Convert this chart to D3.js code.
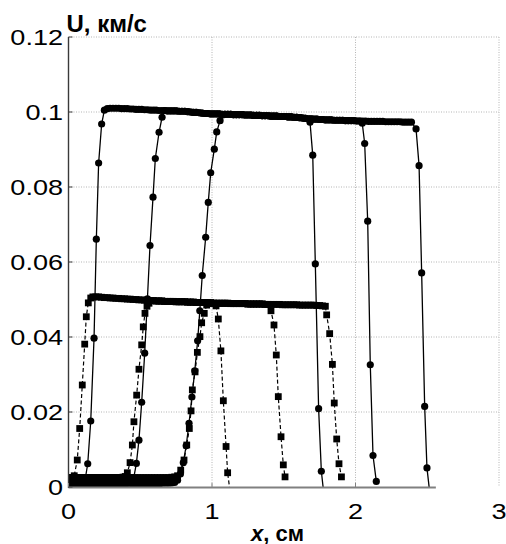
<!DOCTYPE html>
<html><head><meta charset="utf-8">
<script src="https://cdn.jsdelivr.net/npm/d3@7"></script>
<style>body{margin:0;background:#fff}svg{display:block}</style>
</head><body><svg id="c" width="506" height="544"></svg>
<script>
// ---- data ----
const xTicks = [0, 1, 2, 3];
const xTickLabels = ["0", "1", "2", "3"];
const yTicks = [0, 0.02, 0.04, 0.06, 0.08, 0.1, 0.12];
const yTickLabels = ["0", "0.02", "0.04", "0.06", "0.08", "0.1", "0.12"];
const xDomain = [0, 3];
const yDomain = [0, 0.12];
const xAxisEnd = 2.56;
const yTitle = "U, км/с";
const xTitleVar = "x";
const xTitleUnit = ", см";

// shared baseline samples (ahead of the pulses)
const baseSolid = [[0,0.0008],[0.02,0.0008],[0.04,0.0008],[0.06,0.0008],[0.08,0.0008],[0.1,0.0009],[0.12,0.0008],[0.14,0.0008],[0.16,0.0008],[0.18,0.0008],[0.2,0.0008],[0.22,0.0008],[0.24,0.0008],[0.26,0.0008],[0.28,0.0008],[0.3,0.0008],[0.32,0.0008],[0.34,0.0008],[0.36,0.0009],[0.38,0.0009],[0.4,0.0009],[0.42,0.0010],[0.44,0.0009],[0.46,0.0009],[0.48,0.0009],[0.5,0.0009],[0.52,0.0009],[0.54,0.0009],[0.56,0.0009],[0.58,0.0009],[0.6,0.0009],[0.62,0.0009],[0.64,0.0009],[0.66,0.0010],[0.68,0.0010],[0.7,0.0010],[0.72,0.0011]];
const baseDashed = [[0,0.0025],[0.02,0.0025],[0.04,0.0025],[0.06,0.0025],[0.08,0.0025],[0.1,0.0025],[0.12,0.0025],[0.14,0.0025],[0.16,0.0025],[0.18,0.0025],[0.2,0.0025],[0.22,0.0025],[0.24,0.0025],[0.26,0.0025],[0.28,0.0025],[0.3,0.0025],[0.32,0.0025],[0.34,0.0025],[0.36,0.0025],[0.38,0.0026],[0.4,0.0025],[0.42,0.0025],[0.44,0.0025],[0.46,0.0025],[0.48,0.0025],[0.5,0.0025],[0.52,0.0025],[0.54,0.0025],[0.56,0.0025],[0.58,0.0025],[0.6,0.0025],[0.62,0.0025],[0.64,0.0025],[0.66,0.0025],[0.68,0.0025],[0.7,0.0025],[0.72,0.0026],[0.74,0.0027]];

// shared plateau samples
const plateau100 = [[0.25,0.1005],[0.27,0.1009],[0.29,0.1010],[0.31,0.1010],[0.33,0.1010],[0.35,0.1010],[0.37,0.1009],[0.39,0.1009],[0.41,0.1009],[0.43,0.1008],[0.45,0.1008],[0.47,0.1007],[0.49,0.1007],[0.51,0.1007],[0.53,0.1006],[0.55,0.1006],[0.57,0.1005],[0.59,0.1005],[0.61,0.1005],[0.63,0.1004],[0.65,0.1004],[0.67,0.1004],[0.69,0.1003],[0.71,0.1003],[0.73,0.1003],[0.75,0.1003],[0.77,0.1002],[0.79,0.1002],[0.81,0.1002],[0.83,0.1001],[0.85,0.1000],[0.87,0.0999],[0.89,0.0999],[0.91,0.0998],[0.93,0.0997],[0.95,0.0996],[0.97,0.0996],[0.99,0.0995],[1.01,0.0995],[1.03,0.0995],[1.05,0.0995],[1.07,0.0994],[1.09,0.0994],[1.11,0.0994],[1.13,0.0994],[1.15,0.0993],[1.17,0.0993],[1.19,0.0993],[1.21,0.0993],[1.23,0.0992],[1.25,0.0992],[1.27,0.0992],[1.29,0.0991],[1.31,0.0991],[1.33,0.0991],[1.35,0.0990],[1.37,0.0990],[1.39,0.0990],[1.41,0.0989],[1.43,0.0989],[1.45,0.0989],[1.47,0.0988],[1.49,0.0988],[1.51,0.0988],[1.53,0.0987],[1.55,0.0987],[1.57,0.0986],[1.59,0.0986],[1.61,0.0985],[1.63,0.0984],[1.65,0.0983],[1.67,0.0982],[1.69,0.0982],[1.71,0.0981],[1.73,0.0981],[1.75,0.0980],[1.77,0.0980],[1.79,0.0979],[1.81,0.0979],[1.83,0.0979],[1.85,0.0978],[1.87,0.0978],[1.89,0.0978],[1.91,0.0978],[1.93,0.0977],[1.95,0.0977],[1.97,0.0977],[1.99,0.0977],[2.01,0.0976],[2.03,0.0976],[2.05,0.0976],[2.07,0.0976],[2.09,0.0975],[2.11,0.0975],[2.13,0.0975],[2.15,0.0975],[2.17,0.0975],[2.19,0.0975],[2.21,0.0974],[2.23,0.0974],[2.25,0.0974],[2.27,0.0974],[2.29,0.0974],[2.31,0.0974],[2.33,0.0973],[2.35,0.0973],[2.37,0.0973],[2.39,0.0973]];
const plateau50 = [[0.17,0.0507],[0.19,0.0507],[0.21,0.0507],[0.23,0.0506],[0.25,0.0505],[0.27,0.0505],[0.29,0.0504],[0.31,0.0504],[0.33,0.0503],[0.35,0.0503],[0.37,0.0502],[0.39,0.0502],[0.41,0.0501],[0.43,0.0501],[0.45,0.0500],[0.47,0.0500],[0.49,0.0499],[0.51,0.0499],[0.53,0.0498],[0.55,0.0498],[0.57,0.0497],[0.59,0.0497],[0.61,0.0496],[0.63,0.0496],[0.65,0.0496],[0.67,0.0495],[0.69,0.0495],[0.71,0.0495],[0.73,0.0495],[0.75,0.0494],[0.77,0.0494],[0.79,0.0494],[0.81,0.0494],[0.83,0.0493],[0.85,0.0493],[0.87,0.0493],[0.89,0.0492],[0.91,0.0492],[0.93,0.0492],[0.95,0.0492],[0.97,0.0491],[0.99,0.0491],[1.01,0.0490],[1.03,0.0490],[1.05,0.0490],[1.07,0.0490],[1.09,0.0490],[1.11,0.0490],[1.13,0.0489],[1.15,0.0489],[1.17,0.0489],[1.19,0.0489],[1.21,0.0489],[1.23,0.0489],[1.25,0.0488],[1.27,0.0488],[1.29,0.0488],[1.31,0.0488],[1.33,0.0488],[1.35,0.0488],[1.37,0.0487],[1.39,0.0487],[1.41,0.0487],[1.43,0.0487],[1.45,0.0487],[1.47,0.0487],[1.49,0.0486],[1.51,0.0486],[1.53,0.0486],[1.55,0.0486],[1.57,0.0486],[1.59,0.0486],[1.61,0.0485],[1.63,0.0485],[1.65,0.0485],[1.67,0.0485],[1.69,0.0485],[1.71,0.0485],[1.73,0.0484],[1.75,0.0484],[1.77,0.0483],[1.79,0.0482]];

// fronts (rear rise and leading fall) of each profile
const solidRise1 = [[0.115,0.0018],[0.134,0.0062],[0.155,0.0176],[0.178,0.0397],[0.194,0.0661],[0.21,0.0864],[0.231,0.0968]];
const solidFall1 = [[1.683,0.0973],[1.702,0.0885],[1.72,0.0595],[1.743,0.0209],[1.762,0.0042],[1.777,-0.001]];
const solidRise2 = [[0.435,0.0012],[0.455,0.0025],[0.473,0.0063],[0.491,0.0125],[0.51,0.0226],[0.531,0.0357],[0.55,0.0502],[0.568,0.0644],[0.589,0.0773],[0.605,0.0876],[0.631,0.0946],[0.652,0.0986]];
const solidFall2 = [[2.047,0.0970],[2.064,0.0916],[2.085,0.0709],[2.103,0.0326],[2.122,0.0084],[2.145,0.0015]];
const solidRise3 = [[0.74,0.0012],[0.76,0.0018],[0.78,0.0035],[0.80,0.0065],[0.82,0.011],[0.84,0.017],[0.86,0.024],[0.88,0.031],[0.90,0.039],[0.915,0.047],[0.932,0.0564],[0.956,0.0666],[0.974,0.0759],[0.991,0.0838],[1.016,0.0901],[1.033,0.0947],[1.056,0.0977],[1.075,0.0992]];
const solidFall3 = [[2.422,0.0955],[2.443,0.0857],[2.461,0.0571],[2.482,0.0215],[2.498,0.0051],[2.516,-0.001]];
const dashedRise1 = [[0.04,0.003],[0.061,0.0072],[0.078,0.0156],[0.096,0.0272],[0.113,0.0381],[0.124,0.0454],[0.138,0.0491],[0.155,0.0504]];
const dashedFall1 = [[1.028,0.0483],[1.044,0.0448],[1.062,0.0363],[1.079,0.023],[1.098,0.0108],[1.109,0.0038],[1.125,-0.001]];
const dashedRise2 = [[0.395,0.0028],[0.41,0.0038],[0.429,0.0065],[0.445,0.0112],[0.456,0.0174],[0.475,0.0245],[0.491,0.0314],[0.51,0.0379],[0.521,0.0427],[0.533,0.0463],[0.547,0.0482],[0.561,0.0490]];
const dashedFall2 = [[1.411,0.0470],[1.432,0.0432],[1.448,0.0352],[1.462,0.0241],[1.481,0.0134],[1.497,0.0059],[1.509,0.0027]];
const dashedRise3 = [[0.76,0.003],[0.782,0.0045],[0.805,0.0072],[0.824,0.0112],[0.842,0.0156],[0.854,0.0203],[0.863,0.0259],[0.882,0.0307],[0.898,0.0359],[0.916,0.0401],[0.928,0.0438],[0.946,0.0463],[0.963,0.0485]];
const dashedFall3 = [[1.799,0.0459],[1.82,0.0409],[1.839,0.0327],[1.852,0.0224],[1.869,0.0128],[1.885,0.0062],[1.902,0.0027]];

const inRange = (arr, a, b) => arr.filter(d => d[0] >= a && d[0] <= b);
const solidSeries = [
  [...inRange(baseSolid, 0, 0.1), ...solidRise1, ...inRange(plateau100, 0.25, 1.66), ...solidFall1],
  [...inRange(baseSolid, 0, 0.42), ...solidRise2, ...inRange(plateau100, 0.67, 2.03), ...solidFall2],
  [...inRange(baseSolid, 0, 0.72), ...solidRise3, ...inRange(plateau100, 1.09, 2.39), ...solidFall3]
];
const dashedSeries = [
  [...inRange(baseDashed, 0, 0.02), ...dashedRise1, ...inRange(plateau50, 0.17, 1.01), ...dashedFall1],
  [...inRange(baseDashed, 0, 0.38), ...dashedRise2, ...inRange(plateau50, 0.59, 1.39), ...dashedFall2],
  [...inRange(baseDashed, 0, 0.74), ...dashedRise3, ...inRange(plateau50, 0.99, 1.79), ...dashedFall3]
];

// ---- drawing ----
const svg = d3.select("#c");
const x = d3.scaleLinear().domain(xDomain).range([68.5, 499]);
const y = d3.scaleLinear().domain(yDomain).range([487, 37]);
const FONT = "'Liberation Sans', Arial, Helvetica, sans-serif";

svg.append("defs").append("clipPath").attr("id", "plotclip")
  .append("rect").attr("x", x(0)).attr("y", y(0.12) - 10)
  .attr("width", x(3) - x(0)).attr("height", y(0) - y(0.12) + 10);

// grid
const grid = svg.append("g");
grid.selectAll("line.h").data(yTicks.filter(d => d > 0)).join("line")
  .attr("x1", x(0)).attr("x2", x(3)).attr("y1", d => y(d)).attr("y2", d => y(d))
  .attr("stroke", "#b5b5b5").attr("stroke-width", 1).attr("stroke-dasharray", "1,1.5");
grid.selectAll("line.v").data(xTicks.filter(d => d > 0)).join("line")
  .attr("x1", d => x(d)).attr("x2", d => x(d)).attr("y1", y(0.12)).attr("y2", y(0))
  .attr("stroke", "#b5b5b5").attr("stroke-width", 1).attr("stroke-dasharray", "1,1.5");

const plot = svg.append("g").attr("clip-path", "url(#plotclip)");
const line = d3.line().x(d => x(d[0])).y(d => y(d[1]));

dashedSeries.forEach(s => {
  plot.append("path").datum(s).attr("d", line).attr("fill", "none")
    .attr("stroke", "#000").attr("stroke-width", 1.2).attr("stroke-dasharray", "4,2.5");
  plot.append("g").selectAll("rect").data(s).join("rect")
    .attr("x", d => x(d[0]) - 3.4).attr("y", d => y(d[1]) - 3.4)
    .attr("width", 6.8).attr("height", 6.8).attr("fill", "#000");
});
solidSeries.forEach(s => {
  plot.append("path").datum(s).attr("d", line).attr("fill", "none")
    .attr("stroke", "#000").attr("stroke-width", 1.3);
  plot.append("g").selectAll("circle").data(s).join("circle")
    .attr("cx", d => x(d[0])).attr("cy", d => y(d[1])).attr("r", 3.6).attr("fill", "#000");
});

// axes
svg.append("line").attr("x1", x(0)).attr("x2", x(0)).attr("y1", y(0.12)).attr("y2", y(0) + 1)
  .attr("stroke", "#3a3a3a").attr("stroke-width", 1.4);
svg.append("line").attr("x1", x(0)).attr("x2", x(xAxisEnd)).attr("y1", y(0) + 0.5).attr("y2", y(0) + 0.5)
  .attr("stroke", "#808080").attr("stroke-width", 2);
svg.selectAll("line.xt").data(xTicks.filter(d => d <= xAxisEnd)).join("line")
  .attr("x1", d => x(d)).attr("x2", d => x(d)).attr("y1", y(0)).attr("y2", y(0) - 4)
  .attr("stroke", "#808080").attr("stroke-width", 1);
svg.selectAll("line.yt").data(yTicks).join("line")
  .attr("x1", x(0)).attr("x2", x(0) + 4).attr("y1", d => y(d)).attr("y2", d => y(d))
  .attr("stroke", "#3a3a3a").attr("stroke-width", 1);

// tick labels
svg.selectAll("text.yl").data(yTicks).join("text")
  .attr("transform", d => `translate(63,${y(d) + 8}) scale(1.23,1)`)
  .attr("text-anchor", "end").attr("font-family", FONT).attr("font-size", 22)
  .text((d, i) => yTickLabels[i]);
svg.selectAll("text.xl").data(xTicks).join("text")
  .attr("transform", d => `translate(${x(d)},519) scale(1.23,1)`)
  .attr("text-anchor", "middle").attr("font-family", FONT).attr("font-size", 22)
  .text((d, i) => xTickLabels[i]);

// titles
svg.append("text").attr("x", 66.5).attr("y", 31.5).attr("font-family", FONT)
  .attr("font-size", 24).attr("font-weight", "bold").text(yTitle);
const xt = svg.append("text").attr("x", 251).attr("y", 540.5).attr("font-family", FONT)
  .attr("font-size", 22).attr("font-weight", "bold");
xt.append("tspan").attr("font-style", "italic").text(xTitleVar);
xt.append("tspan").text(xTitleUnit);
</script></body></html>
